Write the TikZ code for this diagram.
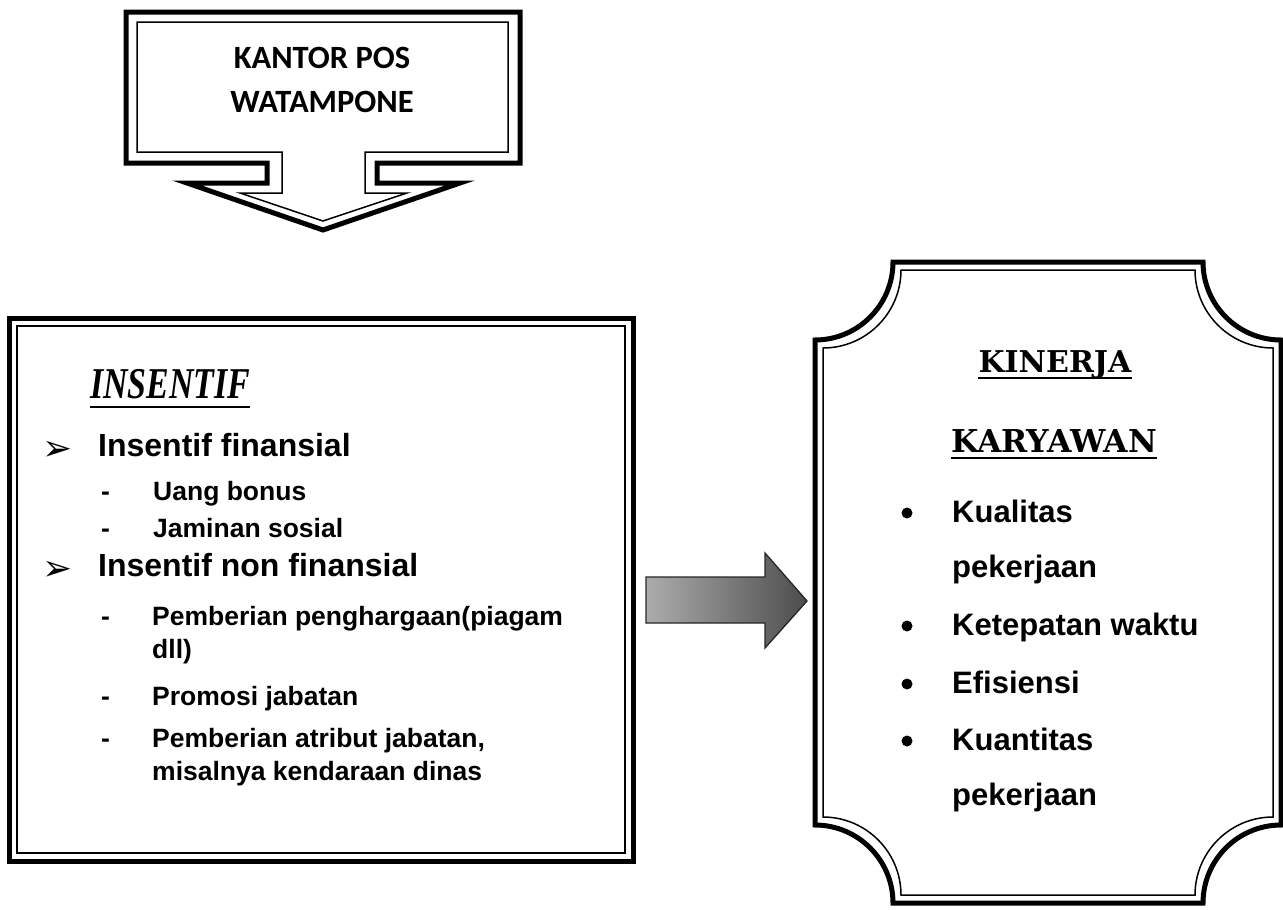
\documentclass[tikz,border=0pt]{standalone}
\usepackage{fontspec}
\setmainfont{Liberation Sans}
\newfontfamily\carlitofont{Carlito}
\newfontfamily\lserif{Liberation Serif}
\newfontfamily\djserif{DejaVu Serif}
\newfontfamily\djsans{DejaVu Sans}
\usetikzlibrary{calc}
\begin{document}
\begin{tikzpicture}[x=1pt,y=-1pt,
  outerline/.style={line width=5pt, line join=miter},
  innerline/.style={line width=1.5pt, line join=miter},
  maintxt/.style={anchor=base west, inner sep=0pt, font=\bfseries\fontsize{32}{38}\selectfont},
  subtxt/.style={anchor=base west, inner sep=0pt, font=\bfseries\fontsize{26.5}{31}\selectfont},
  righttxt/.style={anchor=base west, inner sep=0pt, font=\bfseries\fontsize{31}{37}\selectfont},
  arrbullet/.style={anchor=base west, inner sep=0pt, font=\djsans\fontsize{36}{40}\selectfont},
  dotbullet/.style={circle, fill=black, inner sep=0pt, minimum size=11pt},
  titletxt/.style={anchor=base, inner sep=0pt, font=\djserif\bfseries\fontsize{30}{36}\selectfont},
  kantortxt/.style={anchor=base, inner sep=0pt, font=\carlitofont\bfseries\fontsize{32.5}{38}\selectfont}
]
\useasboundingbox[fill=white] (0,0) rectangle (1283,910);

% ---- top callout arrow ----
\draw[outerline] (126,12) -- (520,12) -- (520,163) -- (377,163) -- (377,183) -- (460,183)
  -- (323,230) -- (187,183) -- (267,183) -- (267,163) -- (126,163) -- cycle;
\draw[innerline] (137,22) -- (508,22) -- (508,152) -- (365,152) -- (365,193) -- (407,193)
  -- (323,221) -- (240,193) -- (282,193) -- (282,152) -- (137,152) -- cycle;
\node[kantortxt] (kantor1) at (322,68) {KANTOR POS};
\node[kantortxt] (kantor2) at (322,112) {WATAMPONE};

% ---- left box ----
\draw[outerline] (9,318) rectangle (633,861);
\draw[innerline] (17,326) rectangle (625,853);

\node[anchor=base west, inner sep=0pt] (insentif) at (90,398)
  {\scalebox{0.77}[1]{\lserif\bfseries\itshape\fontsize{44}{50}\selectfont INSENTIF}};
\draw[line width=2.4pt] ($(insentif.base west)+(0,9)$) -- ($(insentif.base east)+(0,9)$);

\node[arrbullet] (ab1) at (42,460) {➢};
\node[maintxt] (if) at (98,456) {Insentif finansial};
\node[subtxt] (d1) at (101,500) {-};
\node[subtxt] (s1) at (153,500) {Uang bonus};
\node[subtxt] (d2) at (101,537) {-};
\node[subtxt] (s2) at (153,537) {Jaminan sosial};
\node[arrbullet] (ab2) at (42,580) {➢};
\node[maintxt] (inf) at (98,576) {Insentif non finansial};
\node[subtxt] (d3) at (101,625) {-};
\node[subtxt] (s3) at (152,625) {Pemberian penghargaan(piagam};
\node[subtxt] (s3b) at (152,658) {dll)};
\node[subtxt] (d4) at (101,705) {-};
\node[subtxt] (s4) at (152,705) {Promosi jabatan};
\node[subtxt] (d5) at (101,747) {-};
\node[subtxt] (s5) at (152,747) {Pemberian atribut jabatan,};
\node[subtxt] (s5b) at (152,780) {misalnya kendaraan dinas};

% ---- middle block arrow ----
\shade[draw=black!85, line width=1.3pt, left color=gray!65, middle color=gray!15, right color=black!70]
  (646,577) -- (765,577) -- (765,553) -- (807,601) -- (765,648) -- (765,623) -- (646,623) -- cycle;

% ---- right box ----
\draw[outerline] (893,262) -- (1203,262) .. controls (1203,305) and (1238,340) .. (1281,340)
  -- (1281,825) .. controls (1238,825) and (1203,860) .. (1203,903)
  -- (893,903) .. controls (893,860) and (858,825) .. (815,825)
  -- (815,340) .. controls (858,340) and (893,305) .. (893,262) -- cycle;
\draw[innerline] (901,270) -- (1195,270) .. controls (1195,313) and (1230,348) .. (1273,348)
  -- (1273,817) .. controls (1230,817) and (1195,852) .. (1195,895)
  -- (901,895) .. controls (901,852) and (866,817) .. (823,817)
  -- (823,348) .. controls (866,348) and (901,313) .. (901,270) -- cycle;

\node[titletxt] (kinerja) at (1055,372) {KINERJA};
\draw[line width=2pt] ($(kinerja.base west)+(0,6)$) -- ($(kinerja.base east)+(0,6)$);
\node[titletxt, font=\djserif\bfseries\fontsize{31.5}{36}\selectfont] (karyawan) at (1054,452) {KARYAWAN};
\draw[line width=2pt] ($(karyawan.base west)+(0,6)$) -- ($(karyawan.base east)+(0,6)$);

\node[dotbullet] (p1) at (907,513) {};
\node[righttxt] (r1) at (952,522) {Kualitas};
\node[righttxt] (r1b) at (952,577) {pekerjaan};
\node[dotbullet] (p2) at (907,626) {};
\node[righttxt] (r2) at (952,635) {Ketepatan waktu};
\node[dotbullet] (p3) at (907,684) {};
\node[righttxt] (r3) at (952,693) {Efisiensi};
\node[dotbullet] (p4) at (907,741) {};
\node[righttxt] (r4) at (952,750) {Kuantitas};
\node[righttxt] (r4b) at (952,805) {pekerjaan};
\end{tikzpicture}
\end{document}
